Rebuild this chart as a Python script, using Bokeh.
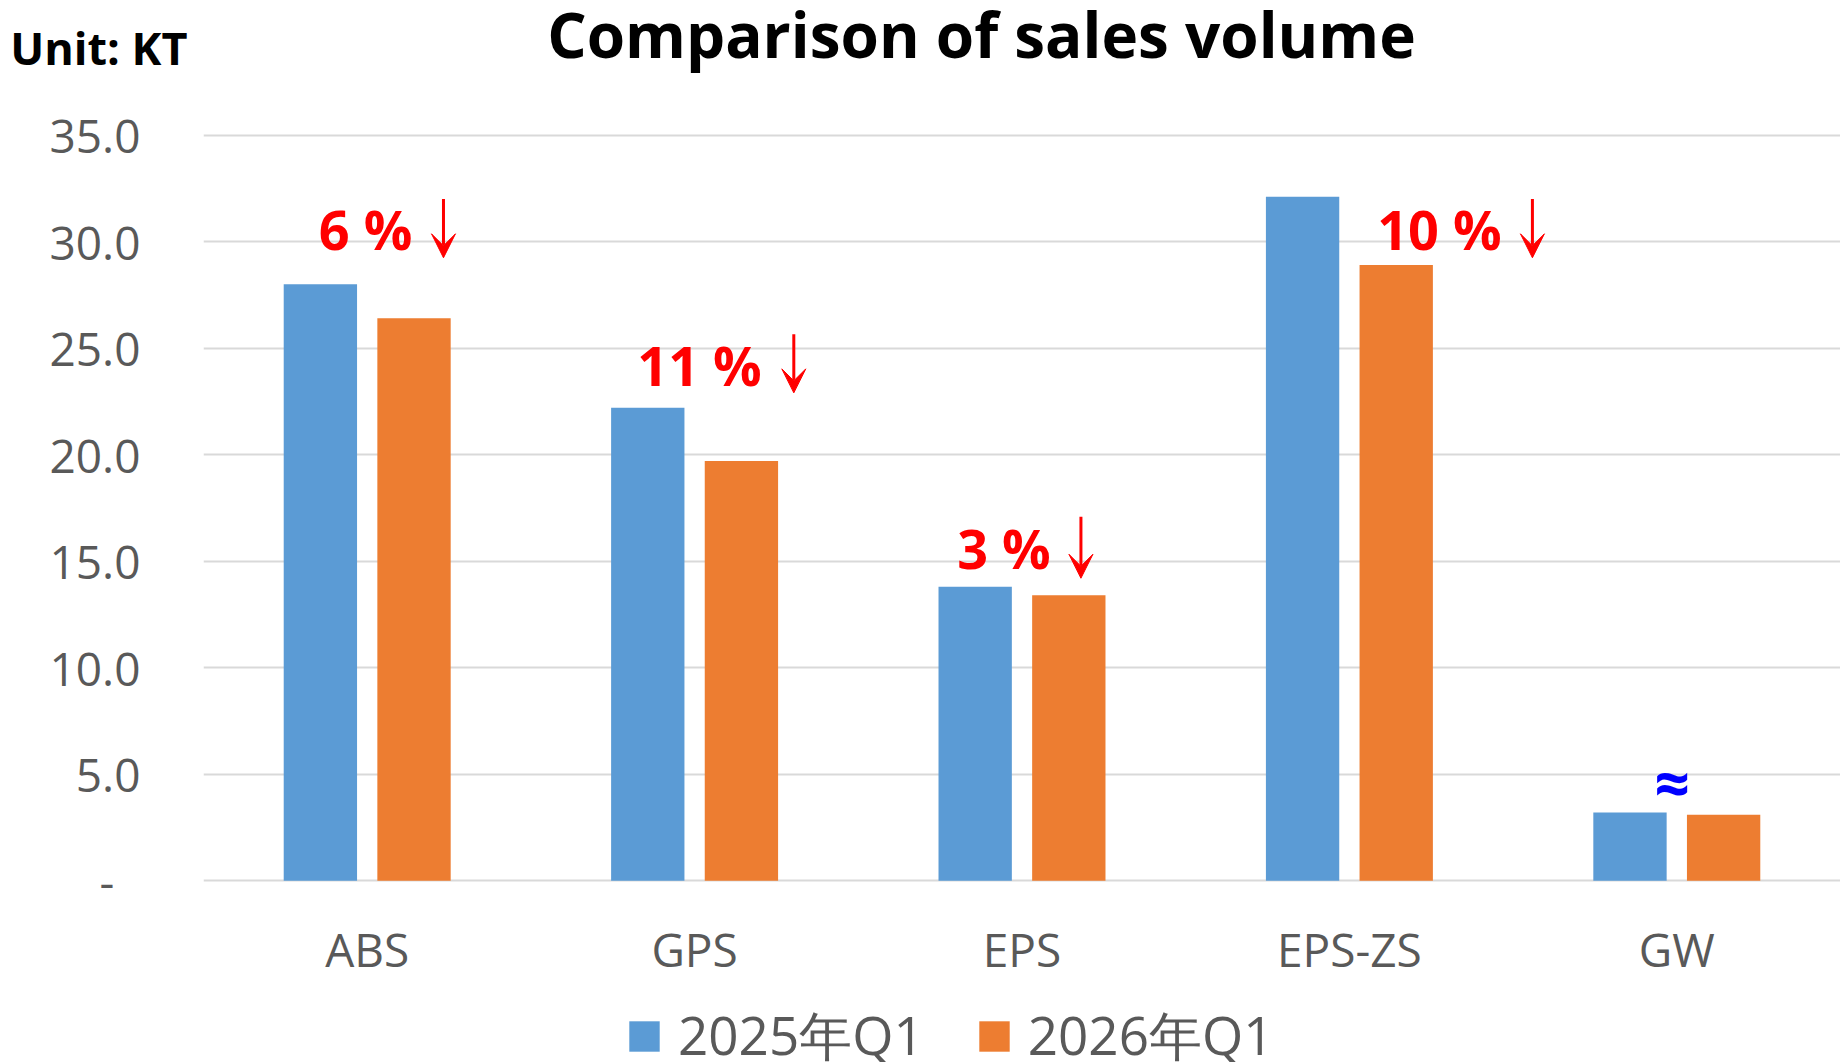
from bokeh.plotting import figure
from bokeh.layouts import column
from bokeh.models import (FactorRange, Range1d, FixedTicker, ColumnDataSource, Legend,
                          LegendItem, Label, Arrow, VeeHead)
from bokeh.transform import dodge
from bokeh.core.properties import value
from bokeh.embed import file_html
from bokeh.resources import INLINE

# ---------------- data ----------------
categories = ["ABS", "GPS", "EPS", "EPS-ZS", "GW"]
series_names = ["2025年Q1", "2026年Q1"]
sales_2025 = [28.0, 22.2, 13.8, 32.1, 3.2]
sales_2026 = [26.4, 19.7, 13.4, 28.9, 3.1]
y_ticks = [0, 5, 10, 15, 20, 25, 30, 35]
y_tick_labels = ["-\u2007", "5.0", "10.0", "15.0", "20.0", "25.0", "30.0", "35.0"]
title_text = "Comparison of sales volume"
unit_text = "Unit: KT"
change_cats = ["ABS", "GPS", "EPS", "EPS-ZS"]
change_labels = ["6 %", "11 %", "3 %", "10 %"]
approx_cat = ["GW"]
approx_label = ["≈"]

# ---------------- layout (annotation placement) ----------------
label_dx = [-0.148, -0.175, -0.198, 0.085]
label_y = [30.58, 24.22, 15.6, 30.58]
arrow_dx = [0.233, 0.303, 0.18, 0.559]
arrow_top = [32.0, 25.65, 17.08, 32.0]
arrow_bottom = [29.24, 22.9, 14.2, 29.24]
approx_dx = [-0.015]
approx_y = [4.65]

BLUE = "#5B9BD5"
ORANGE = "#ED7D31"
GRAY = "#595959"
FONT = "Open Sans"

W = 1840
HEADER_H = 92
MAIN_TOP = 40
FRAME_H = 930
PX_PER_UNIT = 21.306
Y_TOP = 35.12
Y_BOTTOM = Y_TOP - FRAME_H / PX_PER_UNIT
LEFT = 203

# ---------------- header (title + unit) ----------------
hdr = figure(width=W, height=HEADER_H, x_range=Range1d(LEFT, W), y_range=Range1d(0, HEADER_H),
             x_axis_type=None, output_backend="svg",
             toolbar_location=None, title=None, min_border=0, min_border_left=LEFT)
hdr.outline_line_color = None
hdr.xgrid.visible = False
hdr.ygrid.visible = False
unit_pos = HEADER_H - 47
hdr.yaxis.ticker = FixedTicker(ticks=[unit_pos])
hdr.yaxis.major_label_overrides = {unit_pos: unit_text}
hdr.yaxis.axis_line_color = None
hdr.yaxis.major_tick_line_color = None
hdr.yaxis.minor_tick_line_color = None
hdr.yaxis.major_label_text_color = "black"
hdr.yaxis.major_label_text_font = FONT
hdr.yaxis.major_label_text_font_style = "bold"
hdr.yaxis.major_label_text_font_size = "45px"
hdr.yaxis.major_label_standoff = 10
hdr.add_layout(Label(x=981, y=HEADER_H - 33, text=title_text,
                     text_font=FONT, text_font_style="bold", text_font_size="62px",
                     text_color="black", text_align="center", text_baseline="middle"))

# ---------------- main chart ----------------
src = ColumnDataSource(dict(cat=categories, s1=sales_2025, s2=sales_2026))

p = figure(width=W, height=FRAME_H + MAIN_TOP,
           x_range=FactorRange(factors=categories, range_padding=0),
           y_range=Range1d(Y_BOTTOM, Y_TOP),
           output_backend="svg", toolbar_location=None, title=None,
           min_border_left=LEFT, min_border_right=0, min_border_top=MAIN_TOP,
           min_border_bottom=0)
p.outline_line_color = None

r1 = p.vbar(x=dodge("cat", -0.143, range=p.x_range), top="s1", width=0.224,
            source=src, fill_color=BLUE, line_color=None)
r2 = p.vbar(x=dodge("cat", 0.143, range=p.x_range), top="s2", width=0.224,
            source=src, fill_color=ORANGE, line_color=None)

p.yaxis.ticker = FixedTicker(ticks=y_ticks)
p.yaxis.major_label_overrides = {t: l for t, l in zip(y_ticks, y_tick_labels)}
for ax in (p.xaxis[0], p.yaxis[0]):
    ax.axis_line_color = None
    ax.major_tick_line_color = None
    ax.minor_tick_line_color = None
    ax.major_label_text_color = GRAY
    ax.major_label_text_font = FONT
    ax.major_label_text_font_size = "46px"
p.yaxis.major_label_standoff = 57
p.xaxis.fixed_location = 0
p.xaxis.major_label_standoff = 31
p.xgrid.grid_line_color = None
p.ygrid.grid_line_color = "#D9D9D9"
p.ygrid.grid_line_width = 2

# change annotations
ann = ColumnDataSource(dict(
    x=[[c, d] for c, d in zip(change_cats, label_dx)],
    y=label_y, t=change_labels))
p.text(x="x", y="y", text="t", source=ann, text_color="#FF0000",
       text_font=value(FONT), text_font_style="bold", text_font_size="54px",
       text_align="left", text_baseline="alphabetic")

arr = ColumnDataSource(dict(
    x=[[c, d] for c, d in zip(change_cats, arrow_dx)],
    y0=arrow_top, y1=arrow_bottom))
p.add_layout(Arrow(x_start="x", y_start="y0", x_end="x", y_end="y1", source=arr,
                   line_color="#FF0000", line_width=3,
                   end=VeeHead(size=24, fill_color="#FF0000", line_color="#FF0000",
                               line_width=1)))

apx = ColumnDataSource(dict(
    x=[[c, d] for c, d in zip(approx_cat, approx_dx)],
    y=approx_y, t=approx_label))
p.text(x="x", y="y", text="t", source=apx, text_color="#0000FF",
       text_font=value(FONT), text_font_style="bold", text_font_size="62px",
       text_align="center", text_baseline="middle")

# legend
legend = Legend(items=[LegendItem(label=series_names[0], renderers=[r1]),
                       LegendItem(label=series_names[1], renderers=[r2])],
                orientation="horizontal", location=(422, -12),
                glyph_width=38, glyph_height=38, label_standoff=15, spacing=51,
                padding=0, margin=0, border_line_color=None,
                background_fill_alpha=0,
                label_text_font=FONT, label_text_font_size="53px",
                label_text_color=GRAY)
p.add_layout(legend)

open("out.html", "w").write(file_html(column(hdr, p), INLINE))
